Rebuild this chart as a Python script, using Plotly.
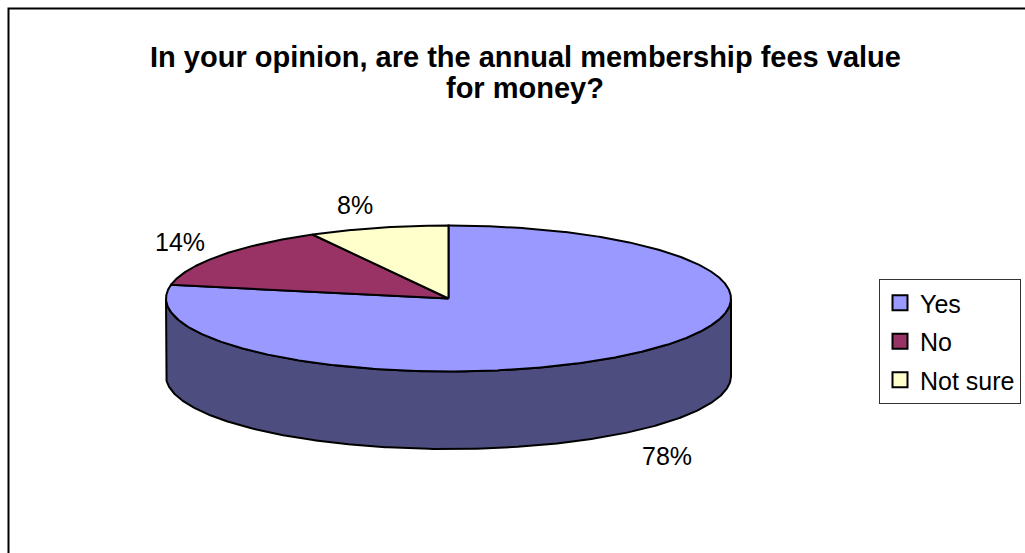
import numpy as np
import plotly.graph_objects as go

# Survey answers
categories = ["Yes", "No", "Not sure"]
shares = [78, 14, 8]

title_lines = ["In your opinion, are the annual membership fees value", "for money?"]

# Styling
top_colors = ["#9999FF", "#993366", "#FFFFCC"]
side_colors = ["#4D4D80", "#4D1A33", "#808066"]
FONT = "Liberation Sans, Arial, sans-serif"

# Canvas in pixel units (x to the right, y downward)
W, H = 1025, 553
CX, CY = 448.5, 298.5      # centre of the top face
RX, RY = 282.5, 73.0       # radii of the top ellipse
DEPTH = 77.5               # thickness of the disc

# Data-label anchor points (pixel space), one per category
label_xy = [(666.5, 456.0), (180.0, 241.5), (354.5, 205.0)]


def rim(theta_deg, drop=0.0):
    """Point on the ellipse rim, angle measured clockwise from 12 o'clock."""
    t = np.radians(theta_deg)
    return CX + RX * np.sin(t), CY - RY * np.cos(t) + drop


fig = go.Figure()

total = float(sum(shares))
bounds = np.concatenate([[0.0], np.cumsum(shares)]) / total * 360.0

# Front walls (only the part between 3 o'clock and 9 o'clock faces the viewer)
for i, cat in enumerate(categories):
    a0, a1 = bounds[i], bounds[i + 1]
    s0, s1 = max(a0, 90.0), min(a1, 270.0)
    if s1 <= s0:
        continue
    th = np.linspace(s0, s1, 300)
    xt, yt = rim(th)
    xb, yb = rim(th[::-1], DEPTH)
    fig.add_trace(go.Scatter(
        x=np.concatenate([xt, xb, xt[:1]]),
        y=np.concatenate([yt, yb, yt[:1]]),
        mode="lines", fill="toself", fillcolor=side_colors[i],
        line=dict(color="black", width=2),
        hoverinfo="skip", showlegend=False,
    ))

# Top faces of the slices
for i, cat in enumerate(categories):
    a0, a1 = bounds[i], bounds[i + 1]
    n = max(int((a1 - a0) * 4), 8)
    th = np.linspace(a0, a1, n)
    xa, ya = rim(th)
    fig.add_trace(go.Scatter(
        x=np.concatenate([[CX], xa, [CX]]),
        y=np.concatenate([[CY], ya, [CY]]),
        mode="lines", fill="toself", fillcolor=top_colors[i],
        line=dict(color="black", width=2),
        name=cat, hoverinfo="name", showlegend=False,
    ))

# Legend entries
for i, cat in enumerate(categories):
    fig.add_trace(go.Scatter(
        x=[None], y=[None], mode="markers", name=cat, legendgroup=cat,
        marker=dict(symbol="square", size=15, color=top_colors[i],
                    line=dict(color="black", width=2)),
    ))

# Percentage labels
for (lx, ly), v in zip(label_xy, shares):
    fig.add_annotation(x=lx, y=ly, text=f"{v}%", showarrow=False,
                       xanchor="center", yanchor="middle",
                       font=dict(family=FONT, size=25, color="black"))

# Title
for k, line in enumerate(title_lines):
    fig.add_annotation(x=525, y=57 + 31 * k, text=line, showarrow=False,
                       xanchor="center", yanchor="middle",
                       font=dict(family=FONT, size=29, color="black", weight="bold"))

# Chart frame
fig.add_shape(type="rect", x0=8.5, y0=8.5, x1=W + 20, y1=H + 20,
              line=dict(color="black", width=2), fillcolor="rgba(0,0,0,0)")

fig.update_layout(
    width=W, height=H,
    margin=dict(l=0, r=0, t=0, b=0),
    paper_bgcolor="white", plot_bgcolor="white",
    xaxis=dict(range=[0, W], visible=False, fixedrange=True),
    yaxis=dict(range=[H, 0], visible=False, fixedrange=True),
    showlegend=True,
    legend=dict(
        x=879 / W, y=1 - 279 / H, xanchor="left", yanchor="top",
        bordercolor="#333333", borderwidth=1, bgcolor="white",
        font=dict(family=FONT, size=25, color="black"),
        traceorder="grouped", tracegroupgap=3, itemwidth=30,
    ),
)

fig.write_html("out.html")
